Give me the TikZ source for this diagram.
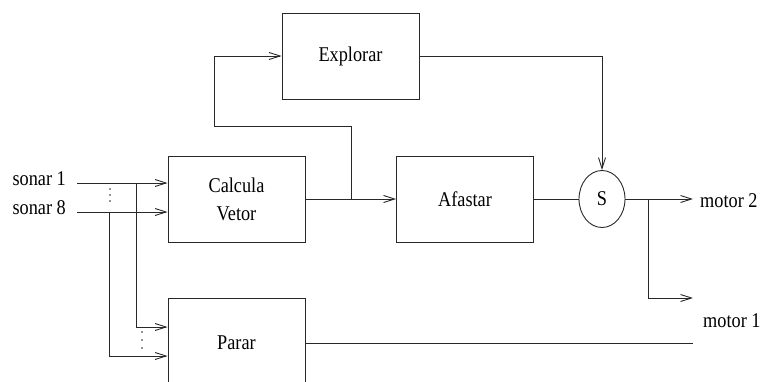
\documentclass[tikz,border=0pt]{standalone}
\usepackage{fontspec}
\setmainfont[FakeStretch=0.87]{Liberation Serif}
\usetikzlibrary{shapes.geometric,arrows.meta,positioning,calc}
\definecolor{lineclr}{RGB}{40,40,40}
\tikzset{
  blk/.style={rectangle,draw=lineclr,line width=0.9pt,
    minimum width=137pt,minimum height=86pt,
    font=\fontsize{21}{28}\selectfont,align=center,inner sep=0pt},
  sw/.style={ellipse,draw=lineclr,line width=0.9pt,
    minimum width=46pt,minimum height=57pt,inner sep=0pt,
    font=\fontsize{21}{28}\selectfont},
  arr/.style={-{Straight Barb[length=11pt,width=7pt]},line width=0.9pt,color=lineclr},
  ln/.style={line width=0.9pt,color=lineclr},
  lbl/.style={font=\fontsize{21}{24}\selectfont,inner sep=0pt},
  vdot/.style={circle,fill=lineclr,inner sep=0pt,minimum size=1.8pt},
}
\begin{document}
\begin{tikzpicture}[x=1pt,y=-1pt]
  \clip (0,0) rectangle (763,381);

  \node[blk] (calc)    at (236.5,199) {Calcula\\Vetor};
  \node[blk] (explorar) at (350.5,56)  {Explorar};
  \node[blk] (afastar) at (465,199)   {Afastar};
  \node[blk,minimum height=90pt] (parar) at (236.5,343) {Parar};
  \node[sw]  (s)       at (602,199)   {S};

  \node[lbl,anchor=base east] (son1) at (66,185) {sonar 1};
  \node[lbl,anchor=base east] (son8) at (66,214) {sonar 8};
  \node[lbl,anchor=base west] (mot2) at (700,207) {motor 2};
  \node[lbl,anchor=base west] (mot1) at (703,327) {motor 1};

  \coordinate (in1) at (77,183);
  \coordinate (in8) at (77,212);
  \coordinate (b1)  at (136,327);
  \coordinate (b8)  at (109,356);
  \coordinate (jv)  at (351,126);
  \coordinate (lp)  at (214,126);
  \coordinate (m2)  at (693,199);
  \coordinate (jm)  at (648,298);

  % sonar inputs
  \draw[arr] (in1) -- (in1 -| calc.west);
  \draw[arr] (in8) -- (in8 -| calc.west);
  \draw[arr] (in1 -| b1) -- (b1) -- (b1 -| parar.west);
  \draw[arr] (in8 -| b8) -- (b8) -- (b8 -| parar.west);
  \foreach \y in {189,195,201} \node[vdot] at (110,\y) {};
  \foreach \y in {332,340,348} \node[vdot] at (142,\y) {};

  % main chain
  \draw[arr] (calc.east) -- (afastar.west);
  \draw[arr] (jv |- calc.east) -- (jv) -- (lp) |- (explorar.west);
  \draw[arr] (explorar.east) -| (s.north);
  \draw[ln] (afastar.east) -- (s.west);
  \draw[arr] (s.east) -- (m2);
  \draw[arr] (jm |- s.east) -- (jm) -- (jm -| m2);
  \draw[ln] (parar.east) -- (parar.east -| m2);

\end{tikzpicture}
\end{document}
